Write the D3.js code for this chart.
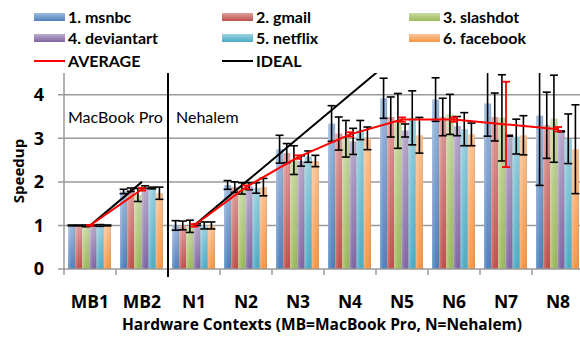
<!DOCTYPE html>
<html><head><meta charset="utf-8">
<script src="https://cdn.jsdelivr.net/npm/d3@7"></script>
<style>
html,body{margin:0;padding:0;background:#fff;}
svg{display:block;font-family:Lato,"Open Sans",sans-serif;}
</style></head>
<body>
<svg id="chart" width="580" height="337"></svg>
<script>
// ---- data ----
const categories = ["MB1","MB2","N1","N2","N3","N4","N5","N6","N7","N8"];
const seriesNames = ["1. msnbc","2. gmail","3. slashdot","4. deviantart","5. netflix","6. facebook"];
const msnbc      = [1.00,1.78,1.00,1.93,2.75,3.34,3.92,3.89,3.80,3.52];
const msnbcErr   = [0.01,0.05,0.11,0.10,0.32,0.41,0.46,0.50,0.75,1.60];
const gmail      = [1.00,1.82,1.00,1.88,2.66,3.11,3.49,3.49,3.49,3.30];
const gmailErr   = [0.01,0.04,0.10,0.12,0.22,0.38,0.46,0.43,0.55,0.76];
const slashdot   = [0.99,1.70,0.98,1.85,2.50,2.99,3.40,3.55,3.47,3.45];
const slashdotErr= [0.02,0.15,0.14,0.13,0.33,0.42,0.63,0.46,0.99,1.00];
const deviantart = [1.00,1.88,1.02,1.90,2.48,2.93,3.18,3.28,3.06,3.16];
const deviantartErr=[0.01,0.03,0.02,0.08,0.12,0.30,0.15,0.22,0.01,0.01];
const netflix    = [1.00,1.86,1.00,1.86,2.58,3.19,3.47,3.21,3.04,2.99];
const netflixErr = [0.02,0.02,0.08,0.12,0.13,0.22,0.62,0.38,0.40,0.57];
const facebook   = [1.00,1.74,1.00,1.88,2.48,3.00,3.07,3.09,3.07,2.75];
const facebookErr= [0.01,0.14,0.08,0.20,0.13,0.26,0.41,0.26,0.45,1.02];
const average    = [1.00,1.83,1.00,1.88,2.57,3.09,3.43,3.43,3.32,3.21];
const averageErr = [0.01,0.03,0.03,0.04,0.04,0.05,0.05,0.05,0.98,0.05];
const idealMB = [1,2];           // MB1, MB2
const idealN  = [1,2,3,4,5,6,7,8]; // N1..N8
const yTicks = [0,1,2,3,4];

const values = [msnbc,gmail,slashdot,deviantart,netflix,facebook];
const errors = [msnbcErr,gmailErr,slashdotErr,deviantartErr,netflixErr,facebookErr];
const colors = ["#4F81BD","#C0504D","#9BBB59","#8064A2","#4BACC6","#F79646"];

// ---- layout ----
const svg = d3.select("#chart");
const pL = 64, pR = 584, pT = 73, pB = 269;
const x = d3.scaleBand().domain(categories).range([pL,pR]).paddingInner(0).paddingOuter(0);
const inner = d3.scaleBand().domain(d3.range(6)).range([4, x.bandwidth()-5]);
const y = d3.scaleLinear().domain([0,4.5]).range([pB,pT]);
const cx = d=>x(d)+x.bandwidth()/2;

// gradients
const defs = svg.append("defs");
colors.forEach((c,i)=>{
  const g = defs.append("linearGradient").attr("id","g"+i).attr("x1",0).attr("y1",0).attr("x2",0).attr("y2",1);
  g.append("stop").attr("offset","0%").attr("stop-color",d3.interpolateRgb(c,"#fff")(0.45));
  g.append("stop").attr("offset","100%").attr("stop-color",c);
  const h = defs.append("linearGradient").attr("id","h"+i).attr("x1",0).attr("y1",0).attr("x2",1).attr("y2",0);
  h.append("stop").attr("offset","0%").attr("stop-color","#fff").attr("stop-opacity",0.25);
  h.append("stop").attr("offset","50%").attr("stop-color","#fff").attr("stop-opacity",0);
  h.append("stop").attr("offset","100%").attr("stop-color","#000").attr("stop-opacity",0.08);
});
defs.append("clipPath").attr("id","plotclip").append("rect")
  .attr("x",pL).attr("y",pT).attr("width",pR-pL).attr("height",pB-pT+1);

// gridlines
svg.append("g").selectAll("line").data(yTicks.filter(d=>d>0)).join("line")
  .attr("x1",pL-6).attr("x2",580).attr("y1",d=>y(d)).attr("y2",d=>y(d))
  .attr("stroke","#9a9a9a").attr("stroke-width",1.5);

// bars
const gBars = svg.append("g");
categories.forEach((cat,ci)=>{
  values.forEach((arr,si)=>{
    const bx = x(cat)+inner(si), bw = inner.bandwidth();
    gBars.append("rect").attr("x",bx).attr("width",bw)
      .attr("y",y(arr[ci])).attr("height",y(0)-y(arr[ci])).attr("fill","url(#g"+si+")");
    gBars.append("rect").attr("x",bx).attr("width",bw)
      .attr("y",y(arr[ci])).attr("height",y(0)-y(arr[ci])).attr("fill","url(#h"+si+")");
  });
});

// axes
svg.append("line").attr("x1",pL).attr("x2",pL).attr("y1",pT).attr("y2",pB)
  .attr("stroke","#9a9a9a").attr("stroke-width",1.5);
svg.append("line").attr("x1",pL-6).attr("x2",580).attr("y1",pB).attr("y2",pB)
  .attr("stroke","#9a9a9a").attr("stroke-width",1.5);
svg.append("g").selectAll("line").data(categories).join("line")
  .attr("x1",d=>x(d)).attr("x2",d=>x(d)).attr("y1",pB).attr("y2",pB+6)
  .attr("stroke","#9a9a9a").attr("stroke-width",1.5);

// error bars
const gErr = svg.append("g").attr("clip-path","url(#plotclip)");
categories.forEach((cat,ci)=>{
  values.forEach((arr,si)=>{
    const ex = x(cat)+inner(si)+inner.bandwidth()/2;
    const v = arr[ci], e = errors[si][ci];
    const y1 = y(v+e), y2 = y(v-e);
    gErr.append("line").attr("x1",ex).attr("x2",ex).attr("y1",y1).attr("y2",y2);
    gErr.append("line").attr("x1",ex-4).attr("x2",ex+4).attr("y1",y1).attr("y2",y1);
    gErr.append("line").attr("x1",ex-4).attr("x2",ex+4).attr("y1",y2).attr("y2",y2);
  });
});
gErr.selectAll("line").attr("stroke","#000").attr("stroke-width",1.6);

// separator
svg.append("line").attr("x1",x("N1")).attr("x2",x("N1")).attr("y1",pT).attr("y2",pB+8)
  .attr("stroke","#000").attr("stroke-width",2);

// ideal lines
const line = d3.line().x(d=>cx(d.c)).y(d=>y(d.v));
const gLines = svg.append("g").attr("clip-path","url(#plotclip)");
gLines.append("path").datum(idealMB.map((v,i)=>({c:categories[i],v})))
  .attr("d",line).attr("fill","none").attr("stroke","#000").attr("stroke-width",2);
gLines.append("path").datum(idealN.map((v,i)=>({c:categories[i+2],v})))
  .attr("d",line).attr("fill","none").attr("stroke","#000").attr("stroke-width",2);
// average lines
gLines.append("path").datum(average.slice(0,2).map((v,i)=>({c:categories[i],v})))
  .attr("d",line).attr("fill","none").attr("stroke","#FF0000").attr("stroke-width",2);
gLines.append("path").datum(average.slice(2).map((v,i)=>({c:categories[i+2],v})))
  .attr("d",line).attr("fill","none").attr("stroke","#FF0000").attr("stroke-width",2);
categories.forEach((cat,ci)=>{
  const px = cx(cat), v = average[ci], e = averageErr[ci];
  const y1 = y(v+e), y2 = y(v-e);
  [[px,px,y1,y2],[px-4,px+4,y1,y1],[px-4,px+4,y2,y2]].forEach(s=>{
    gLines.append("line").attr("x1",s[0]).attr("x2",s[1]).attr("y1",s[2]).attr("y2",s[3])
      .attr("stroke","#FF0000").attr("stroke-width",1.8);
  });
});

// y tick labels
svg.append("g").selectAll("text").data(yTicks).join("text")
  .attr("x",44).attr("y",d=>y(d)).attr("dy","0.36em").attr("text-anchor","end")
  .attr("font-family","'Open Sans',sans-serif")
  .attr("font-size",18).attr("font-weight","bold").text(d=>d);
// x tick labels
svg.append("g").selectAll("text").data(categories).join("text")
  .attr("x",d=>cx(d)).attr("y",308).attr("text-anchor","middle")
  .attr("font-family","'Open Sans',sans-serif")
  .attr("font-size",17.5).attr("font-weight","bold").text(d=>d);
// axis titles
svg.append("text").attr("x",322).attr("y",330).attr("text-anchor","middle")
  .attr("font-family","'Open Sans',sans-serif")
  .attr("font-size",15.5).attr("font-weight","bold").text("Hardware Contexts (MB=MacBook Pro, N=Nehalem)");
svg.append("text").attr("transform","translate(24,171) rotate(-90)").attr("text-anchor","middle")
  .attr("font-family","'Open Sans',sans-serif")
  .attr("font-size",15).attr("font-weight","bold").text("Speedup");

// section labels
svg.append("text").attr("x",68).attr("y",123).attr("font-size",16).text("MacBook Pro");
svg.append("text").attr("x",176).attr("y",123).attr("font-size",16).text("Nehalem");

// legend
const legX = [34,222,409], legY = [17,38,61];
seriesNames.forEach((n,i)=>{
  const lx = legX[i%3], ly = legY[Math.floor(i/3)];
  svg.append("rect").attr("x",lx).attr("y",ly-4).attr("width",31).attr("height",8).attr("fill","url(#g"+i+")");
  svg.append("text").attr("x",lx+34).attr("y",ly).attr("dy","0.35em")
    .attr("font-size",16).attr("font-weight","bold").text(n);
});
[["AVERAGE","#FF0000",0],["IDEAL","#000",1]].forEach(([n,c,i])=>{
  const lx = legX[i], ly = legY[2];
  svg.append("line").attr("x1",lx).attr("x2",lx+31).attr("y1",ly).attr("y2",ly).attr("stroke",c).attr("stroke-width",2);
  svg.append("text").attr("x",lx+34).attr("y",ly).attr("dy","0.35em")
    .attr("font-size",16).attr("font-weight","bold").text(n);
});
</script>
</body></html>
